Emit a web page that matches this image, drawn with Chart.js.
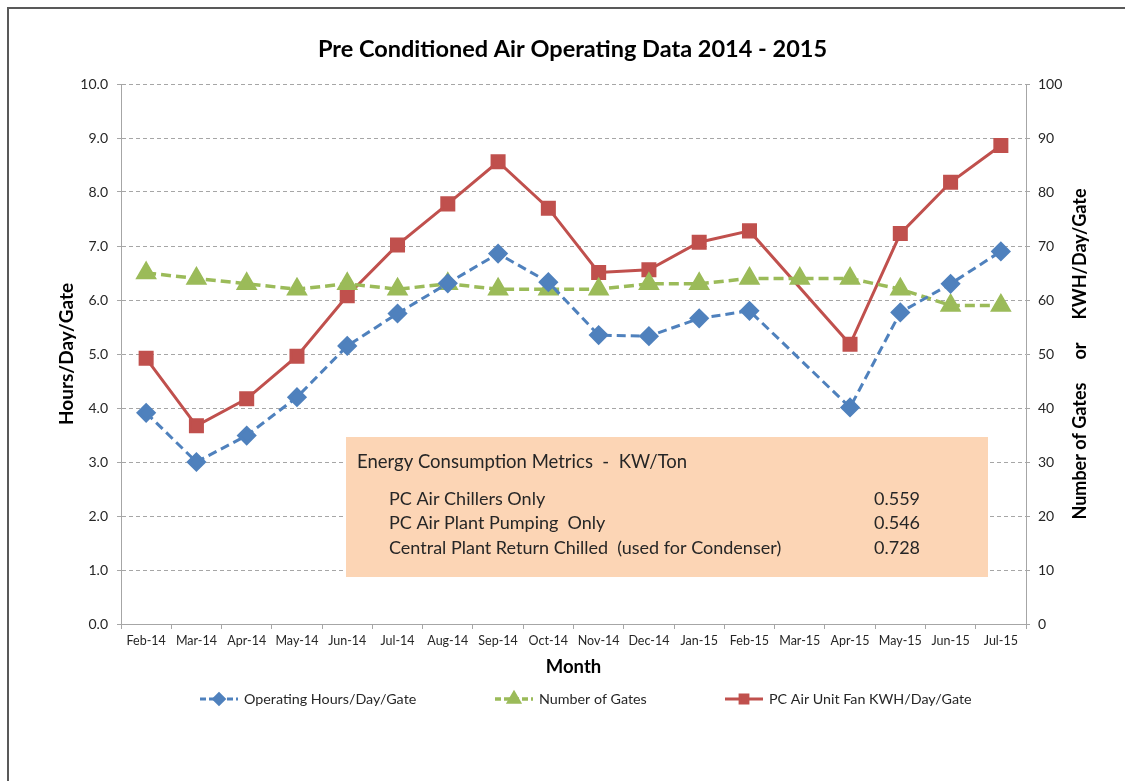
<!DOCTYPE html>
<html>
<head>
<meta charset="utf-8">
<script src="https://cdn.jsdelivr.net/npm/chart.js@4.4.0/dist/chart.umd.min.js"></script>
<style>
  html, body { margin: 0; padding: 0; background: #fff; overflow: hidden; }
  canvas { display: block; }
</style>
</head>
<body>
<canvas id="paChart" width="1125" height="781"></canvas>
<script>
const months = ["Feb-14", "Mar-14", "Apr-14", "May-14", "Jun-14", "Jul-14", "Aug-14", "Sep-14", "Oct-14",
                "Nov-14", "Dec-14", "Jan-15", "Feb-15", "Mar-15", "Apr-15", "May-15", "Jun-15", "Jul-15"];
const opHours = [3.91, 3.0, 3.49, 4.2, 5.15, 5.75, 6.31, 6.86, 6.33, 5.35, 5.33, 5.66, 5.8, null, 4.01, 5.77, 6.3, 6.9];
const numGates = [65, 64, 63, 62, 63, 62, 63, 62, 62, 62, 63, 63, 64, 64, 64, 62, 59, 59];
const fanKwh = [49.2, 36.7, 41.7, 49.6, 60.8, 70.2, 77.8, 85.6, 77.0, 65.1, 65.6, 70.7, 72.8, null, 51.8, 72.3, 81.8, 88.6];

const metricsTitle = "Energy Consumption Metrics  -  KW/Ton";
const metricNames = ["PC Air Chillers Only", "PC Air Plant Pumping  Only", "Central Plant Return Chilled  (used for Condenser)"];
const metricValues = ["0.559", "0.546", "0.728"];

const FONT = "Lato, 'Open Sans', sans-serif";
const BLUE = "#4F81BD", GREEN = "#9BBB59", RED = "#C0504D";
const GRID = "#A6A6A6", TXT = "#262626";

// chart frame, right axis title, metrics box and the excel-like legend
const extras = {
  id: "extras",
  beforeDraw(chart) {
    const ctx = chart.ctx;
    ctx.save();
    ctx.strokeStyle = "#595959";
    ctx.lineWidth = 2;
    ctx.beginPath();
    ctx.moveTo(8, chart.height);
    ctx.lineTo(8, 8);
    ctx.lineTo(chart.width, 8);
    ctx.stroke();
    ctx.restore();
  },
  beforeDatasetsDraw(chart) {
    const ctx = chart.ctx, ca = chart.chartArea;
    const bx = ca.left + 225, by = ca.top + 353, bw = 642, bh = 140;
    ctx.save();
    ctx.fillStyle = "#FCD5B5";
    ctx.fillRect(bx, by, bw, bh);
    ctx.fillStyle = TXT;
    ctx.textBaseline = "middle";
    ctx.font = "18.5px " + FONT;
    ctx.fillText(metricsTitle, bx + 11, by + 25);
    ctx.font = "18px " + FONT;
    metricNames.forEach((n, i) => {
      const y = by + 62 + i * 24.5;
      ctx.fillText(n, bx + 43, y);
      ctx.fillText(metricValues[i], bx + 528, y);
    });
    ctx.restore();
  },
  afterDraw(chart) {
    const ctx = chart.ctx, ca = chart.chartArea;
    ctx.save();
    // right axis title, reads bottom to top
    ctx.font = "bold 18px " + FONT;
    ctx.fillStyle = "#000";
    ctx.textBaseline = "middle";
    const parts = ["Number of Gates", "or", "KWH/Day/Gate"];
    const gap = 23;
    const ws = parts.map(p => ctx.measureText(p).width);
    const total = ws.reduce((a, b) => a + b, 0) + gap * 2;
    ctx.translate(ca.right + 54, (ca.top + ca.bottom) / 2);
    ctx.rotate(-Math.PI / 2);
    let px = -total / 2;
    parts.forEach((p, i) => { ctx.fillText(p, px, 0); px += ws[i] + gap; });
    ctx.restore();

    // legend
    const ly = ca.bottom + 75;
    const starts = [200, 495, 725];
    ctx.save();
    ctx.font = "14.3px " + FONT;
    ctx.textBaseline = "middle";
    chart.data.datasets.forEach((ds, i) => {
      const x0 = starts[i];
      ctx.strokeStyle = ds.borderColor;
      ctx.lineWidth = ds.borderWidth;
      ctx.setLineDash(ds.borderDash && ds.borderDash.length ? [6, 3] : []);
      ctx.beginPath();
      ctx.moveTo(x0, ly);
      ctx.lineTo(x0 + 38, ly);
      ctx.stroke();
      ctx.setLineDash([]);
      ctx.fillStyle = ds.backgroundColor;
      Chart.helpers.drawPoint(ctx, { pointStyle: ds.pointStyle, radius: ds.pointRadius * 0.65, rotation: 0, borderWidth: 1 }, x0 + 19, ly);
      ctx.fillStyle = TXT;
      ctx.fillText(ds.label, x0 + 44, ly);
    });
    ctx.restore();
  }
};

new Chart(document.getElementById("paChart"), {
  type: "line",
  data: {
    labels: months,
    datasets: [{
      label: "Operating Hours/Day/Gate",
      data: opHours,
      yAxisID: "y",
      borderColor: BLUE,
      backgroundColor: BLUE,
      borderWidth: 3,
      borderDash: [9, 5],
      pointStyle: "rectRot",
      pointRadius: 8,
      pointHoverRadius: 8,
      spanGaps: true,
      tension: 0
    }, {
      label: "Number of Gates",
      data: numGates,
      yAxisID: "y1",
      borderColor: GREEN,
      backgroundColor: GREEN,
      borderWidth: 3.5,
      borderDash: [10, 5],
      pointStyle: "triangle",
      pointRadius: 9,
      pointHoverRadius: 9,
      tension: 0
    }, {
      label: "PC Air Unit Fan KWH/Day/Gate",
      data: fanKwh,
      yAxisID: "y1",
      borderColor: RED,
      backgroundColor: RED,
      borderWidth: 3,
      pointStyle: "rect",
      pointRadius: 8.5,
      pointHoverRadius: 8.5,
      spanGaps: true,
      tension: 0
    }]
  },
  options: {
    responsive: false,
    animation: false,
    layout: { padding: { left: 20, right: 0, top: 0, bottom: 0 } },
    plugins: {
      legend: { display: false },
      tooltip: { enabled: false },
      title: {
        display: true,
        text: "Pre Conditioned Air Operating Data 2014 - 2015",
        color: "#000",
        font: { family: FONT, size: 23.5, weight: "bold", lineHeight: 1.2 },
        padding: { top: 34.9, bottom: 20.9 }
      }
    },
    scales: {
      x: {
        offset: true,
        grid: { display: true, drawOnChartArea: false, offset: true, tickLength: 5, color: GRID },
        border: { color: GRID, width: 1 },
        ticks: { color: TXT, font: { family: FONT, size: 12.5 }, padding: 4, maxRotation: 0, autoSkip: false },
        title: { display: true, text: "Month", color: "#000", font: { family: FONT, size: 18.5, weight: "bold", lineHeight: 1.2 },
                 padding: { top: 0, bottom: 103 } },
        afterFit(s) { s.height = 157; }
      },
      y: {
        position: "left",
        min: 0, max: 10,
        ticks: { stepSize: 1, color: TXT, font: { family: FONT, size: 14 }, padding: 9,
                 callback: v => v.toFixed(1) },
        grid: { color: GRID, tickLength: 4, tickColor: GRID },
        border: { color: GRID, dash: [4, 3] },
        title: { display: true, text: "Hours/Day/Gate", color: "#000", font: { family: FONT, size: 19, weight: "bold", lineHeight: 1.2 },
                 padding: { top: 35.6, bottom: 0 } },
        afterFit(s) { s.width = 101; }
      },
      y1: {
        position: "right",
        min: 0, max: 100,
        ticks: { stepSize: 10, color: TXT, font: { family: FONT, size: 14 }, padding: 8 },
        grid: { drawOnChartArea: false, tickLength: 4, color: GRID },
        border: { color: GRID },
        afterFit(s) { s.width = 99; }
      }
    }
  },
  plugins: [extras]
});
</script>
</body>
</html>
